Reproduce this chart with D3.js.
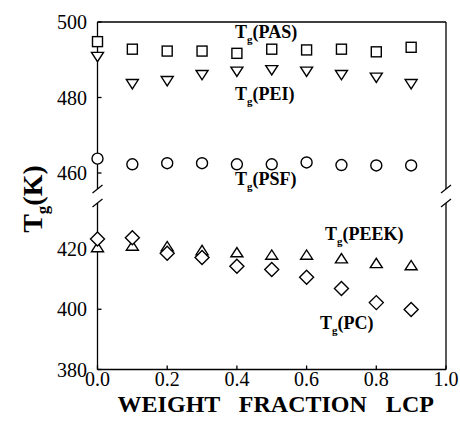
<!DOCTYPE html>
<html>
<head>
<meta charset="utf-8">
<script src="https://cdn.jsdelivr.net/npm/d3@7"></script>
<style>
  html, body { margin: 0; padding: 0; background: #fff; }
  svg { display: block; }
</style>
</head>
<body>
<svg id="chart" width="460" height="438"></svg>
<script>
// Weight fraction of LCP in each blend
const fractions = [0.0, 0.1, 0.2, 0.3, 0.4, 0.5, 0.6, 0.7, 0.8, 0.9];

// Glass transition temperatures (K)
const tgPAS  = [494.8, 492.8, 492.3, 492.3, 491.7, 492.8, 492.6, 492.8, 492.1, 493.3];
const tgPEI  = [491.0, 483.8, 484.6, 486.2, 487.1, 487.5, 487.1, 486.2, 485.5, 483.8];
const tgPSF  = [463.8, 462.3, 462.6, 462.6, 462.3, 462.3, 462.8, 462.1, 462.0, 462.0];
const tgPEEK = [420.3, 420.8, 420.6, 419.3, 418.6, 417.8, 417.8, 416.6, 415.0, 414.3];
const tgPC   = [423.3, 423.7, 418.6, 417.2, 414.3, 413.2, 410.6, 406.9, 402.2, 399.9];

// Tick values
const xTicks = [0.0, 0.2, 0.4, 0.6, 0.8, 1.0];
const yTicksUpper = [460, 480, 500];
const yTicksLower = [380, 400, 420];

const serif = "'Liberation Serif', 'Times New Roman', Times, 'DejaVu Serif', serif";
const svg = d3.select("#chart").attr("font-family", serif);

const plotLeft = 97.5, plotRight = 446, plotTop = 22, plotBottom = 369.5;
const breakTop = 189, breakBottom = 203;

const x = d3.scaleLinear().domain([0, 1]).range([plotLeft, plotRight]);
const yUp = d3.scaleLinear().domain([460, 500]).range([173, plotTop]);
const yLo = d3.scaleLinear().domain([380, 420]).range([plotBottom, 249]);

const lw = 1.3;

// Frame: top and bottom lines, side lines broken around the axis break
const frame = svg.append("g").attr("stroke", "#000").attr("stroke-width", lw).attr("fill", "none");
frame.append("line").attr("x1", plotLeft).attr("x2", plotRight).attr("y1", plotTop).attr("y2", plotTop);
frame.append("line").attr("x1", plotLeft).attr("x2", plotRight).attr("y1", plotBottom).attr("y2", plotBottom);
[plotLeft, plotRight].forEach(sx => {
  frame.append("line").attr("x1", sx).attr("x2", sx).attr("y1", plotTop).attr("y2", breakTop);
  frame.append("line").attr("x1", sx).attr("x2", sx).attr("y1", breakBottom).attr("y2", plotBottom);
  // break slashes
  [breakTop, breakBottom].forEach(by => {
    frame.append("line")
      .attr("x1", sx - 5).attr("y1", by + 4)
      .attr("x2", sx + 5).attr("y2", by - 4);
  });
});

// Inward ticks
const tickLen = 4;
const ticks = svg.append("g").attr("stroke", "#000").attr("stroke-width", lw);
xTicks.forEach(t => {
  ticks.append("line").attr("x1", x(t)).attr("x2", x(t))
    .attr("y1", plotBottom).attr("y2", plotBottom - tickLen);
});
yTicksUpper.forEach(t => {
  ticks.append("line").attr("x1", plotLeft).attr("x2", plotLeft + tickLen)
    .attr("y1", yUp(t)).attr("y2", yUp(t));
});
yTicksLower.forEach(t => {
  ticks.append("line").attr("x1", plotLeft).attr("x2", plotLeft + tickLen)
    .attr("y1", yLo(t)).attr("y2", yLo(t));
});

// Tick labels
const tl = svg.append("g").attr("font-size", 20).attr("fill", "#000");
xTicks.forEach(t => {
  tl.append("text").attr("x", x(t)).attr("y", 386)
    .attr("text-anchor", "middle").text(d3.format(".1f")(t));
});
yTicksUpper.forEach(t => {
  tl.append("text").attr("x", 87).attr("y", yUp(t)).attr("dy", "0.35em")
    .attr("text-anchor", "end").text(t);
});
yTicksLower.forEach(t => {
  tl.append("text").attr("x", 87).attr("y", yLo(t)).attr("dy", "0.35em")
    .attr("text-anchor", "end").text(t);
});

// Axis titles
svg.append("text")
  .attr("x", (plotLeft + plotRight) / 2 + 4).attr("y", 412)
  .attr("text-anchor", "middle")
  .attr("font-size", 24).attr("font-weight", "bold")
  .attr("word-spacing", 13)
  .text("WEIGHT FRACTION LCP");

const yt = svg.append("text")
  .attr("transform", "translate(42,199) rotate(-90)")
  .attr("text-anchor", "middle")
  .attr("font-size", 28).attr("font-weight", "bold");
yt.append("tspan").text("T");
yt.append("tspan").attr("font-size", 17).attr("dy", 6).text("g");
yt.append("tspan").attr("dy", -6).text("(K)");

// Markers (open, white-filled)
const triDown = (cx, cy, s) => `M${cx - s},${cy - s * 0.6}L${cx + s},${cy - s * 0.6}L${cx},${cy + s * 0.95}Z`;
const triUp = (cx, cy, s) => `M${cx - s},${cy + s * 0.6}L${cx + s},${cy + s * 0.6}L${cx},${cy - s * 0.95}Z`;

const marks = svg.append("g").attr("fill", "#fff").attr("stroke", "#000").attr("stroke-width", 1.4);

function plotSeries(values, scale, drawFn) {
  values.forEach((v, i) => drawFn(x(fractions[i]), scale(v)));
}

plotSeries(tgPAS, yUp, (cx, cy) => {
  marks.append("rect").attr("x", cx - 5).attr("y", cy - 5).attr("width", 10).attr("height", 10);
});
plotSeries(tgPEI, yUp, (cx, cy) => {
  marks.append("path").attr("d", triDown(cx, cy, 6));
});
plotSeries(tgPSF, yUp, (cx, cy) => {
  marks.append("circle").attr("cx", cx).attr("cy", cy).attr("r", 5.5);
});
plotSeries(tgPEEK, yLo, (cx, cy) => {
  marks.append("path").attr("d", triUp(cx, cy, 6));
});
plotSeries(tgPC, yLo, (cx, cy) => {
  marks.append("path").attr("d", `M${cx},${cy - 7}L${cx + 7},${cy}L${cx},${cy + 7}L${cx - 7},${cy}Z`);
});

// Series labels
const seriesLabels = [
  { name: "(PAS)",  x: 235, y: 38 },
  { name: "(PEI)",  x: 235, y: 100 },
  { name: "(PSF)",  x: 235, y: 185 },
  { name: "(PEEK)", x: 325, y: 240 },
  { name: "(PC)",   x: 320, y: 329 }
];
seriesLabels.forEach(l => {
  const t = svg.append("text").attr("x", l.x).attr("y", l.y)
    .attr("font-size", 18).attr("font-weight", "bold");
  t.append("tspan").text("T");
  t.append("tspan").attr("font-size", 11).attr("dy", 5).text("g");
  t.append("tspan").attr("dy", -5).text(l.name);
});
</script>
</body>
</html>
